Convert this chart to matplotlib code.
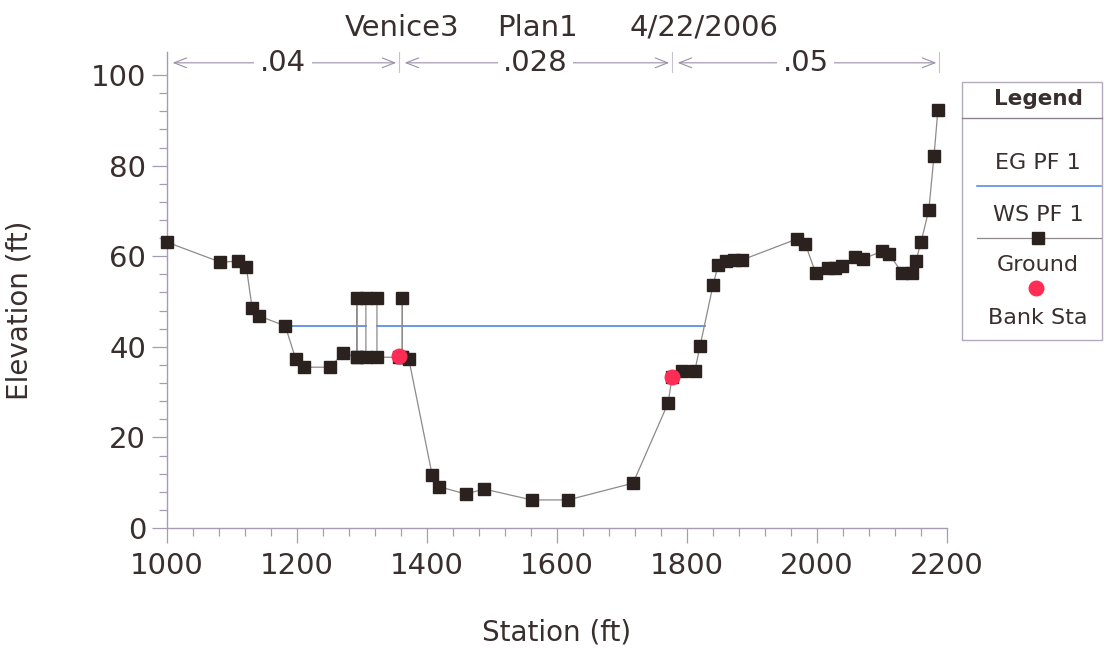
import matplotlib
matplotlib.use('Agg')
import matplotlib.pyplot as plt
from matplotlib.patches import Rectangle

# ---------------- data ----------------
title_parts = ["Venice3", "Plan1", "4/22/2006"]

ground_sta = [1000, 1082, 1109, 1122, 1131, 1142, 1182, 1198, 1211, 1251, 1271,
              1292, 1292, 1292, 1306, 1306, 1323, 1323, 1357, 1362, 1362, 1362,
              1372, 1408, 1419, 1460, 1488, 1561, 1617, 1717, 1771, 1777, 1792,
              1812, 1820, 1840, 1848, 1860, 1872, 1885, 1969, 1982, 1998, 2017,
              2028, 2038, 2058, 2071, 2100, 2111, 2131, 2146, 2152, 2160, 2172,
              2180, 2186]
ground_elev = [63.1, 58.7, 58.9, 57.6, 48.6, 46.8, 44.6, 37.3, 35.5, 35.5, 38.6,
               37.7, 50.8, 37.7, 37.7, 50.8, 50.8, 37.7, 37.7, 37.7, 50.8, 37.7,
               37.3, 11.7, 9.1, 7.5, 8.6, 6.2, 6.2, 9.9, 27.6, 33.3, 34.7,
               34.7, 40.1, 53.6, 58.1, 59.0, 59.2, 59.2, 63.8, 62.7, 56.3, 57.4,
               57.4, 57.8, 59.8, 59.4, 61.1, 60.5, 56.3, 56.3, 58.9, 63.1, 70.2,
               82.1, 92.3]

bank_sta = [1357, 1777]
bank_elev = [37.9, 33.3]

ws_elev = 44.7
ws_start = [1180, 1323]
ws_end = [1306, 1827]

n_values = [".04", ".028", ".05"]
n_breaks = [1000, 1357, 1777, 2188]

xticks = [1000, 1200, 1400, 1600, 1800, 2000, 2200]
yticks = [0, 20, 40, 60, 80, 100]

legend_labels = ["EG PF 1", "WS PF 1", "Ground", "Bank Sta"]

# ---------------- style ----------------
TXT = '#3a2f2f'
AXC = '#a79db3'
GRD_LINE = '#8e8a8a'
GRD_MK = '#2b2220'
RED = '#ff2d55'
BLUE = '#5b8fe6'
NLINE = '#9a90a8'

W, H = 1117, 651
fig = plt.figure(figsize=(W / 100, H / 100), dpi=100)
fig.patch.set_facecolor('white')

ylim_top = 105
ax = fig.add_axes([167 / W, 1 - 528 / H, (947 - 167) / W, (528 - 52.4) / H])
ax.set_xlim(1000, 2200)
ax.set_ylim(0, ylim_top)
for s in ['top', 'right']:
    ax.spines[s].set_visible(False)
for s in ['left', 'bottom']:
    ax.spines[s].set_color(AXC)
    ax.spines[s].set_linewidth(1.0)
ax.spines['left'].set_bounds(0, ylim_top)

ax.set_xticks(xticks)
ax.set_yticks(yticks)
ax.set_xticks([x for x in range(1000, 2201, 40) if x not in xticks], minor=True)
ax.set_yticks([y for y in range(0, 101, 4) if y not in yticks], minor=True)
ax.tick_params(axis='both', which='major', length=11, width=0.9, color=AXC,
               labelsize=21, labelcolor=TXT)
ax.tick_params(axis='both', which='minor', length=6, width=0.9, color=AXC)
ax.tick_params(axis='x', which='major', pad=6)
ax.tick_params(axis='y', which='major', pad=4)
for lab in ax.get_xticklabels() + ax.get_yticklabels():
    lab.set_fontfamily('DejaVu Sans')

# water surface
for a, b in zip(ws_start, ws_end):
    ax.plot([a, b], [ws_elev, ws_elev], color=BLUE, lw=1.3, zorder=2)

# ground
ax.plot(ground_sta, ground_elev, color=GRD_LINE, lw=0.9, zorder=3,
        marker='s', ms=8, mfc=GRD_MK, mec=GRD_MK, clip_on=False)

# bank stations
ax.plot(bank_sta, bank_elev, ls='none', marker='o', ms=10.5, mfc=RED, mec=RED,
        zorder=4)

# Manning's n band
ny = 102.7
for i, txt in enumerate(n_values):
    x0, x1 = n_breaks[i], n_breaks[i + 1]
    ax.annotate('', xy=(x1, ny), xytext=(x0, ny),
                arrowprops=dict(arrowstyle='<->,head_length=0.9,head_width=0.35',
                                color=NLINE, lw=0.8, shrinkA=4, shrinkB=2),
                annotation_clip=False, zorder=2)
    ax.text((x0 + x1) / 2, ny, txt, ha='center', va='center', fontsize=21,
            color=TXT, zorder=3,
            bbox=dict(facecolor='white', edgecolor='none', pad=4))
for xb in n_breaks[1:]:
    ax.plot([xb, xb], [100.6, ylim_top], color='#c8c2cc', lw=0.8, clip_on=False)

# labels
fig.text(20 / W, 1 - 310 / H, 'Elevation (ft)', rotation=90, ha='center',
         va='center', fontsize=20, color=TXT)
fig.text(557 / W, 1 - 633 / H, 'Station (ft)', ha='center', va='center',
         fontsize=20, color=TXT)

# title
for txt, xc in zip(title_parts, [402, 538, 704]):
    fig.text(xc / W, 1 - 28 / H, txt, ha='center', va='center', fontsize=21,
             color=TXT)

# legend (drawn in pixel coordinates on an overlay)
ov = fig.add_axes([0, 0, 1, 1])
ov.set_xlim(0, W)
ov.set_ylim(H, 0)
ov.axis('off')
ov.patch.set_alpha(0)
ov.add_patch(Rectangle((962, 82), 140, 258, facecolor='white',
                       edgecolor='#b3a9bd', lw=1.0))
ov.plot([962, 1102], [118, 118], color='#8a8090', lw=1.0)
ov.text(1038, 99, 'Legend', ha='center', va='center', fontsize=15.5,
        fontweight='bold', color=TXT)
label_y = [163, 215, 265, 318]
for lab, yy in zip(legend_labels, label_y):
    ov.text(1038, yy, lab, ha='center', va='center', fontsize=16, color=TXT)
ov.plot([977, 1101], [186, 186], color=BLUE, lw=1.2)
ov.plot([977, 1101], [238, 238], color=GRD_LINE, lw=0.9)
ov.plot([1038], [238], marker='s', ms=8, mfc=GRD_MK, mec=GRD_MK)
ov.plot([1036], [288], marker='o', ms=10.5, mfc=RED, mec=RED)

fig.savefig('out.png', dpi=100, facecolor='white')
